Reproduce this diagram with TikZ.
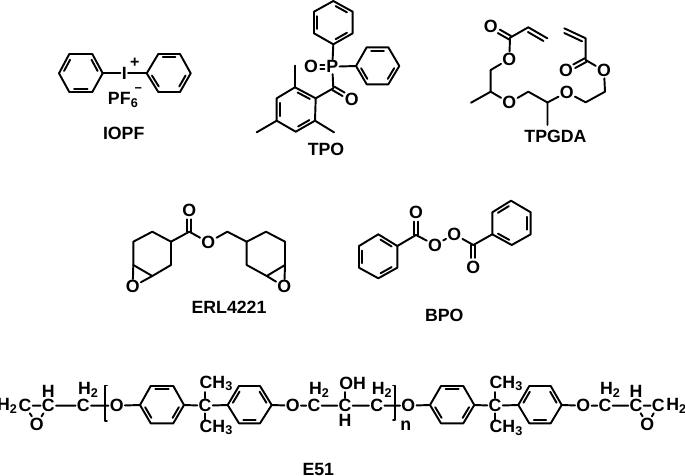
\documentclass[tikz,border=0pt]{standalone}
\usepackage{fontspec}
\setmainfont{Liberation Sans}
\usetikzlibrary{calc}
\tikzset{
  bond/.style={line width=1.45pt,line cap=round,line join=round,black},
  atom/.style={font=\fontsize{13.3}{13.3}\selectfont\bfseries,inner sep=0.8pt,text=black},
  smallatom/.style={font=\fontsize{9.5}{9.5}\selectfont\bfseries,inner sep=0pt,text=black},
  title/.style={font=\fontsize{13.3}{13.3}\selectfont\bfseries,inner sep=0pt,text=black},
}
% ring: prefix + six vertices in order
\newcommand\ringat[7]{%
  \coordinate (#1a) at (#2); \coordinate (#1b) at (#3); \coordinate (#1c) at (#4);
  \coordinate (#1d) at (#5); \coordinate (#1e) at (#6); \coordinate (#1f) at (#7);
  \coordinate (#1o) at ($(#1a)!.5!(#1d)$);
  \draw[bond] (#1a)--(#1b)--(#1c)--(#1d)--(#1e)--(#1f)--cycle;}
% inner double-bond line of a ring
\newcommand\inr[3]{\draw[bond] ($(#1#2)!.2!(#1o)!.12!(#1#3)$) -- ($(#1#3)!.2!(#1o)!.12!(#1#2)$);}
% symmetric double bond: from, to, shorten start, shorten end (pt)
\newcommand\dbond[4]{%
  \draw[bond,shorten <=#3pt,shorten >=#4pt] ($(#1)!1.5pt!90:(#2)$) -- ($(#2)!1.5pt!-90:(#1)$);
  \draw[bond,shorten <=#3pt,shorten >=#4pt] ($(#1)!1.5pt!-90:(#2)$) -- ($(#2)!1.5pt!90:(#1)$);}
% one-sided second line: from, to, angle at from, angle at to
\newcommand\sidebond[4]{%
  \draw[bond,shorten <=1.5pt,shorten >=1.5pt] ($(#1)!3.2pt!#3:(#2)$) -- ($(#2)!3.2pt!#4:(#1)$);}
\newcommand\twosub{\raisebox{-0.3ex}{\fontsize{9.5}{9.5}\selectfont 2}}
\newcommand\threesub{\raisebox{-0.3ex}{\fontsize{9.5}{9.5}\selectfont 3}}
\begin{document}
\begin{tikzpicture}[x=0.75pt,y=-0.75pt]
\useasboundingbox (0,0) rectangle (685,475);
%% IOPF
\ringat{ia}{59,73.3}{69.3,54}{92.3,54}{102.7,73.3}{92.3,92}{69.3,92}
\inr{ia}{a}{b}\inr{ia}{c}{d}\inr{ia}{e}{f}
\ringat{ib}{146.7,73.3}{158.3,54}{180,54}{190.7,73.3}{180,92}{158.3,92}
\inr{ib}{a}{f}\inr{ib}{b}{c}\inr{ib}{d}{e}
\node[atom] (iod) at (124.3,73.3) {I};
\node[smallatom,font=\fontsize{12}{12}\selectfont\bfseries] (plus) at (134.7,63.3) {+};
\draw[bond] (iad) -- (iod) -- (iba);
\node[atom] (pf) at (119.3,98.3) {PF};
\node[smallatom] (six) at (134.3,103.5) {6};
\node[smallatom] (minus) at (138.3,90.5) {\textminus};
\node[title] (iopf) at (123.7,133.3) {IOPF};
%% TPO
\node[atom] (pa) at (332.3,66.7) {P};
\node[atom] (poo) at (311,66.7) {O};
\node[atom] (coo) at (351.7,99) {O};
\coordinate (cco) at (333.3,88.3);
\ringat{ta}{333.3,44.3}{314,33.3}{314,11.7}{333.3,1}{352.7,11.7}{352.7,33.3}
\inr{ta}{b}{c}\inr{ta}{d}{e}\inr{ta}{f}{a}
\ringat{tb}{356,66}{366.7,47.3}{388.3,47.3}{399.3,66}{388.3,84.3}{366.7,84.3}
\inr{tb}{b}{c}\inr{tb}{d}{e}\inr{tb}{f}{a}
\ringat{tc}{315.7,98.3}{295,87.3}{276.7,98.3}{276.7,120.7}{295.7,131.7}{315,120.7}
\inr{tc}{a}{b}\inr{tc}{c}{d}\inr{tc}{e}{f}
\coordinate (m1) at (295,65.7);
\coordinate (m2) at (256.7,132.3);
\coordinate (m3) at (334,132.3);
\draw[bond] (tca) -- (cco) -- (pa) -- (taa);
\draw[bond] (pa) -- (tba);
\draw[bond] (tcb) -- (m1);
\draw[bond] (tcd) -- (m2);
\draw[bond] (tcf) -- (m3);
\dbond{poo}{pa}{7}{6}
\dbond{cco}{coo}{0}{7}
\node[title] (tpo) at (326,149) {TPO};
%% TPGDA
\node[atom] (ga) at (490.7,26.7) {O};
\coordinate (gb) at (510,37.7);
\coordinate (gc) at (528.3,27.3);
\coordinate (gd) at (547.3,38.3);
\node[atom] (ge) at (509.3,59) {O};
\coordinate (gf) at (490.7,70);
\coordinate (gg) at (490.7,91.7);
\coordinate (gh) at (471,102.7);
\node[atom] (gi) at (509.3,102.7) {O};
\coordinate (gj) at (528.3,91.7);
\coordinate (gk) at (547.5,102.5);
\coordinate (gl) at (547.5,125);
\node[atom] (gm) at (566.7,92.3) {O};
\coordinate (gn) at (585.7,102.3);
\coordinate (gp) at (605,91.7);
\node[atom] (gq) at (604,70.7) {O};
\coordinate (gr) at (585.7,60);
\node[atom] (gs) at (566,70.7) {O};
\coordinate (gt) at (585.7,38.3);
\coordinate (gu) at (564.3,28.3);
\draw[bond] (gd) -- (gc) -- (gb) -- (ge) -- (gf) -- (gg) -- (gh);
\draw[bond] (gg) -- (gi) -- (gj) -- (gk) -- (gl);
\draw[bond] (gk) -- (gm) -- (gn) -- (gp) -- (gq) -- (gr) -- (gt) -- (gu);
\dbond{gb}{ga}{0}{7}
\dbond{gr}{gs}{0}{7}
\sidebond{gc}{gd}{-90}{90}
\sidebond{gt}{gu}{90}{-90}
\node[title] (tpgda) at (555.5,136.7) {TPGDA};
%% ERL4221
\ringat{ea}{171,241.7}{152.3,231.7}{133.3,241.7}{133.3,265}{152.3,276}{171,265}
\ringat{eb}{246.7,241.7}{266,231.7}{285,241.7}{285,265}{266.7,276}{246.7,265}
\node[atom] (eo1) at (132.7,286.7) {O};
\node[atom] (eo2) at (284.3,286.7) {O};
\node[atom] (eo3) at (189.3,210) {O};
\node[atom] (eo4) at (208.3,242.3) {O};
\coordinate (ec) at (189.3,231.7);
\coordinate (em) at (227.3,231.7);
\draw[bond] (eaa) -- (ec) -- (eo4) -- (em) -- (eba);
\dbond{ec}{eo3}{0}{7}
\draw[bond] (ead) -- (eo1) -- (eae);
\draw[bond] (ebd) -- (eo2) -- (ebe);
\node[title] (erl) at (229,307.3) {ERL4221};
%% BPO
\ringat{ba}{397.3,246}{378.3,234.3}{359,246}{359,267.7}{378.3,278.3}{397.3,267.7}
\inr{ba}{a}{b}\inr{ba}{c}{d}\inr{ba}{e}{f}
\ringat{bb}{492.3,234.3}{492.3,212.3}{511,200.7}{530.7,212.3}{530.7,234.3}{511.7,245}
\inr{bb}{b}{c}\inr{bb}{d}{e}\inr{bb}{f}{a}
\coordinate (bc1) at (416,235);
\coordinate (bc2) at (473.3,245);
\node[atom] (bo1) at (416,212.3) {O};
\node[atom] (bo2) at (435,245) {O};
\node[atom] (bo3) at (454.3,234.3) {O};
\node[atom] (bo4) at (473.3,267.3) {O};
\draw[bond] (baa) -- (bc1) -- (bo2) -- (bo3) -- (bc2) -- (bba);
\dbond{bc1}{bo1}{0}{7}
\dbond{bc2}{bo4}{0}{7}
\node[title] (bpo) at (444.3,315.7) {BPO};
%% E51
\node[atom] (c1) at (25,405.7) {C};
\node[atom,anchor=east,inner sep=0pt] (h1) at (c1.west) {H\twosub};
\node[atom] (c2) at (48.3,405.7) {C};
\node[atom] (h2) at (48.3,391.7) {H};
\node[atom] (o1) at (36.7,424) {O};
\node[atom] (c3) at (83.3,405.7) {C};
\node[atom] (h3) at (88,390) {H\twosub};
\node[atom] (o2) at (116.7,405.7) {O};
\ringat{ra}{140,405}{150.7,386}{173.3,386}{184,405}{173.3,423.3}{150.7,423.3}
\inr{ra}{b}{c}\inr{ra}{d}{e}\inr{ra}{f}{a}
\node[atom] (c4) at (205,405.7) {C};
\node[atom] (me1) at (216,383.3) {CH\threesub};
\node[atom] (me2) at (216,427.3) {CH\threesub};
\coordinate (t4) at (205,392);
\coordinate (u4) at (205,420);
\ringat{rb}{227.7,405}{239,386}{260,386}{271.7,405}{260,423.3}{239,423.3}
\inr{rb}{a}{b}\inr{rb}{c}{d}\inr{rb}{e}{f}
\node[atom] (o3) at (292.7,405.7) {O};
\node[atom] (c5) at (314,405.7) {C};
\node[atom] (h5) at (319,390) {H\twosub};
\node[atom] (c6) at (345,405.7) {C};
\node[atom] (oh) at (352.7,383.3) {OH};
\node[atom] (h6) at (345,420.5) {H};
\coordinate (t6) at (345,392);
\node[atom] (c7) at (376.7,405.7) {C};
\node[atom] (h7) at (381.7,390) {H\twosub};
\node[atom] (o4) at (408.3,405.7) {O};
\node[atom] (nn) at (405.7,426) {n};
\ringat{rc}{430,405}{441,386}{463.3,386}{474.3,405}{463.3,423.3}{441,423.3}
\inr{rc}{b}{c}\inr{rc}{d}{e}\inr{rc}{f}{a}
\node[atom] (c8) at (495,405.7) {C};
\node[atom] (me3) at (506,383.3) {CH\threesub};
\node[atom] (me4) at (506,428) {CH\threesub};
\coordinate (t8) at (495,392);
\coordinate (u8) at (495,420);
\ringat{rd}{518.3,405}{529.3,386}{550.7,386}{561.7,405}{550.7,423.3}{529.3,423.3}
\inr{rd}{a}{b}\inr{rd}{c}{d}\inr{rd}{e}{f}
\node[atom] (o5) at (583.3,405.7) {O};
\node[atom] (c9) at (605,405.7) {C};
\node[atom] (h9) at (610,390) {H\twosub};
\node[atom] (c10) at (636,405.7) {C};
\node[atom] (h10) at (636,391.7) {H};
\node[atom] (c11) at (658.3,405.7) {C};
\node[atom,anchor=west,inner sep=0pt] (h11) at (c11.east) {H\twosub};
\node[atom] (o6) at (647.3,424) {O};
\draw[bond] (c1) -- (c2) -- (o1) -- (c1);
\draw[bond] (c2) -- (c3) -- (o2) -- (raa);
\draw[bond] (rad) -- (c4) -- (rba);
\draw[bond] (c4) -- (t4);
\draw[bond] (c4) -- (u4);
\draw[bond] (rbd) -- (o3) -- (c5) -- (c6) -- (c7) -- (o4) -- (rca);
\draw[bond] (c6) -- (t6);
\draw[bond] (rcd) -- (c8) -- (rda);
\draw[bond] (c8) -- (t8);
\draw[bond] (c8) -- (u8);
\draw[bond] (rdd) -- (o5) -- (c9) -- (c10) -- (o6) -- (c11) -- (c10);
% brackets
\coordinate (b1a) at (107,385.5);
\coordinate (b1b) at (105,385.5);
\coordinate (b1c) at (105,421);
\coordinate (b1d) at (107,421);
\draw[bond,line width=1.2pt] (b1a) -- (b1b) -- (b1c) -- (b1d);
\coordinate (b2a) at (393,385.5);
\coordinate (b2b) at (395,385.5);
\coordinate (b2c) at (395,420);
\coordinate (b2d) at (393,420);
\draw[bond,line width=1.2pt] (b2a) -- (b2b) -- (b2c) -- (b2d);
\node[title] (e51) at (318.3,469) {E51};
\end{tikzpicture}
\end{document}
